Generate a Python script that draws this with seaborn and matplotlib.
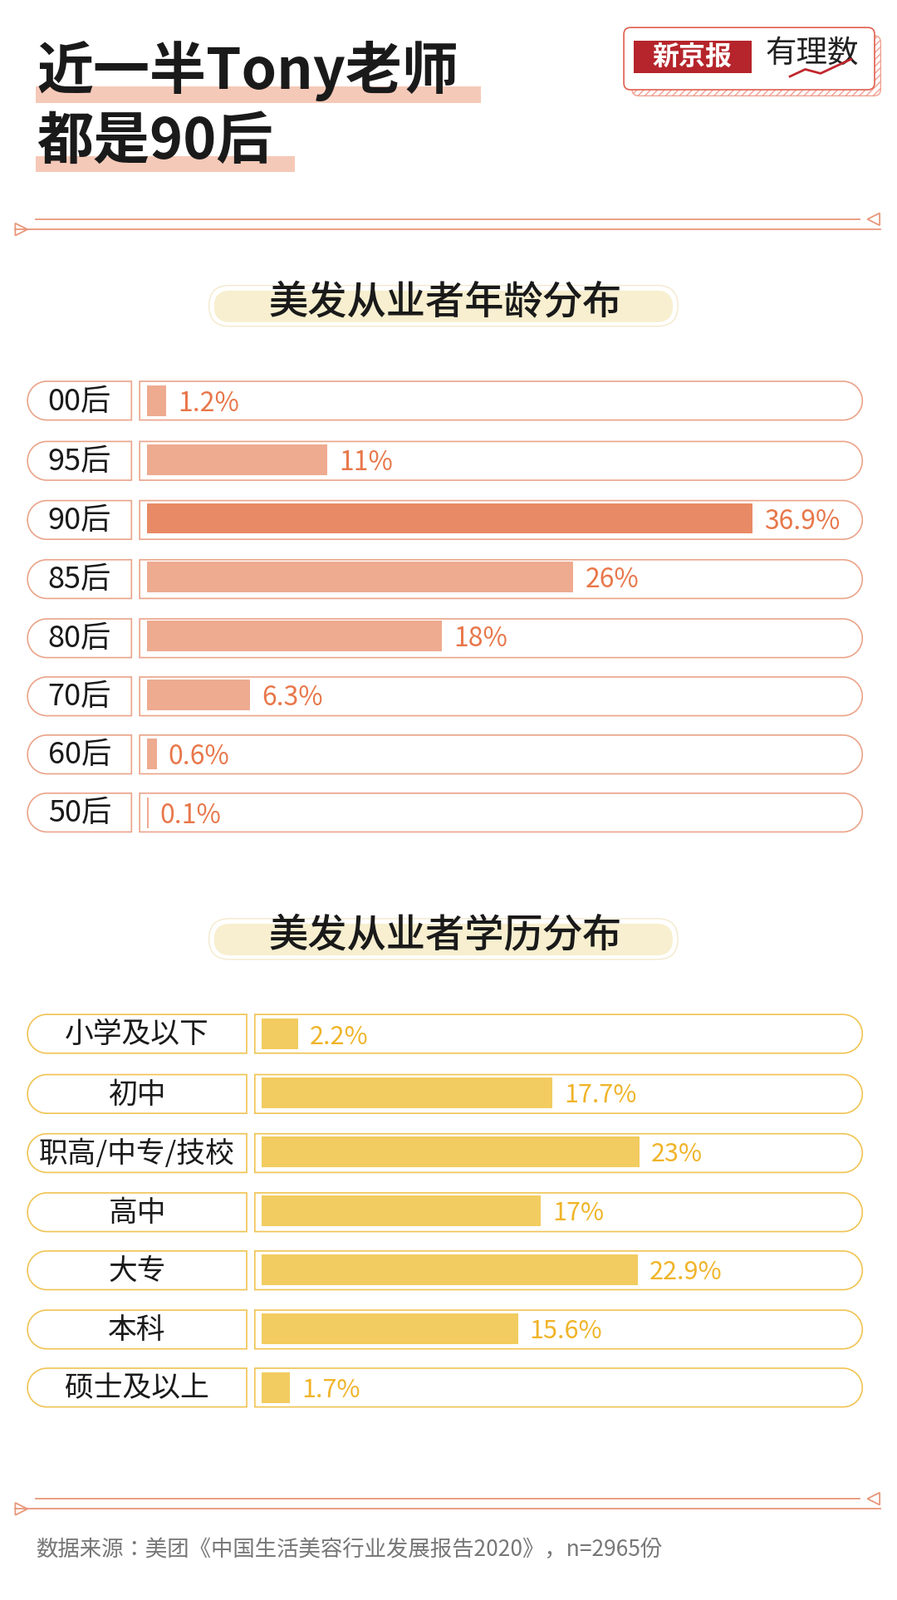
import matplotlib
matplotlib.use("Agg")
import matplotlib.pyplot as plt
from matplotlib.patches import FancyBboxPatch, Rectangle, Polygon
import numpy as np
import seaborn as sns

plt.rcParams["font.family"] = ["Noto Sans CJK SC", "Noto Sans CJK JP", "Noto Sans CJK TC",
                               "Noto Sans CJK KR", "DejaVu Sans"]

# ---- data ----
age_cats = ["00后", "95后", "90后", "85后", "80后", "70后", "60后", "50后"]
age_vals = [1.2, 11, 36.9, 26, 18, 6.3, 0.6, 0.1]
age_labels = ["1.2%", "11%", "36.9%", "26%", "18%", "6.3%", "0.6%", "0.1%"]
edu_cats = ["小学及以下", "初中", "职高/中专/技校", "高中", "大专", "本科", "硕士及以上"]
edu_vals = [2.2, 17.7, 23, 17, 22.9, 15.6, 1.7]
edu_labels = ["2.2%", "17.7%", "23%", "17%", "22.9%", "15.6%", "1.7%"]

S = 1080 / 880.0
W, H = 1080, 1926
fig = plt.figure(figsize=(10.8, 19.26), dpi=100)
fig.patch.set_facecolor("white")
bg = fig.add_axes([0, 0, 1, 1])
bg.set_xlim(0, W); bg.set_ylim(H, 0); bg.axis("off")

def pill(x0, y0, x1, y1, fc="none", ec="none", lw=1.2, z=1):
    x0, y0, x1, y1 = x0*S, y0*S, x1*S, y1*S
    h = y1 - y0
    bg.add_patch(FancyBboxPatch((x0, y0), x1-x0, h, boxstyle=f"round,pad=0,rounding_size={h/2}",
                                fc=fc, ec=ec, lw=lw, zorder=z))

def half_pill(x0, y0, x1, y1, side, ec, lw=1.2, z=1):
    x0, y0, x1, y1 = x0*S, y0*S, x1*S, y1*S
    r = (y1 - y0) / 2; yc = (y0 + y1) / 2
    t = np.linspace(-np.pi/2, np.pi/2, 40)
    if side == "left":
        arc = np.column_stack([x0 + r - r*np.cos(t), yc + r*np.sin(t)])
        pts = [(x1, y0)] + list(map(tuple, arc)) + [(x1, y1)]
    else:
        arc = np.column_stack([x1 - r + r*np.cos(t), yc + r*np.sin(t)])
        pts = [(x0, y0)] + list(map(tuple, arc)) + [(x0, y1)]
    bg.add_patch(Polygon(pts, closed=True, fc="white", ec=ec, lw=lw, zorder=z))

def txt(x, y, s, **kw):
    bg.text(x*S, y*S, s, **kw)

# title
bg.add_patch(Rectangle((35*S, 85*S), 437*S, 16*S, fc="#f5c9b8", ec="none", zorder=1))
bg.add_patch(Rectangle((35*S, 153*S), 254*S, 16*S, fc="#f5c9b8", ec="none", zorder=1))
txt(36, 70, "近一半Tony老师", fontsize=49, fontweight="bold", va="center", color="#1a1a1a", zorder=2)
txt(36, 140, "都是90后", fontsize=49, fontweight="bold", va="center", color="#1a1a1a", zorder=2)

# logo
bg.add_patch(FancyBboxPatch((620*S, 35*S), 244*S, 59*S, boxstyle="round,pad=0,rounding_size=8",
                            fc="white", ec="#f0a090", lw=1, hatch="////", zorder=1))
bg.add_patch(FancyBboxPatch((612*S, 27*S), 246*S, 61*S, boxstyle="round,pad=0,rounding_size=8",
                            fc="white", ec="#e06050", lw=1.2, zorder=2))
bg.add_patch(Rectangle((622*S, 40*S), 115*S, 32*S, fc="#b5252b", ec="none", zorder=3))
txt(679, 56, "新京报", fontsize=23, fontweight="bold", color="white", ha="center", va="center", zorder=4)
txt(797, 52, "有理数", fontsize=27, style="italic", color="#222222", ha="center", va="center", zorder=4)
bg.plot([775*S, 790*S, 805*S, 835*S], [75*S, 68*S, 72*S, 58*S], color="#c0272d", lw=2, zorder=5)

def divider(y):
    c = "#e8967a"
    bg.plot([35*S, 843*S], [y*S, y*S], color=c, lw=1.3)
    bg.plot([15*S, 864*S], [(y+10)*S, (y+10)*S], color=c, lw=1.3)
    bg.add_patch(Polygon([(863*S, (y-6)*S), (863*S, (y+6)*S), (851*S, y*S)], closed=True, fc="none", ec=c, lw=1.3))
    bg.add_patch(Polygon([(15*S, (y+4)*S), (15*S, (y+16)*S), (27*S, (y+10)*S)], closed=True, fc="none", ec=c, lw=1.3))

divider(215)
divider(1470)

def header(y, s):
    pill(205, y-17, 665, y+23, fc="none", ec="#f3e9cc", lw=1, z=1)
    pill(210, y-12, 660, y+19, fc="#f7efcf", z=2)
    txt(437, y, s, fontsize=34, fontweight="medium", color="#1a1a1a", ha="center", va="center", zorder=3)

header(297, "美发从业者年龄分布")
header(918, "美发从业者学历分布")

def section(cats, vals, labels, rows, lab_x1, pill_x0, bar_x0, ec, barcolors, tcolor, top, bottom, lfs, vfs):
    for c, yc in zip(cats, rows):
        half_pill(27, yc-19, lab_x1, yc+19, "left", ec)
        half_pill(pill_x0, yc-19, 846, yc+19, "right", ec)
        txt((27+lab_x1)/2, yc + 1, c, fontsize=lfs, color="#1a1a1a", ha="center", va="center", zorder=3)
    left = bar_x0*S / W
    width = (846-bar_x0)*S / W
    b = 1 - bottom*S / H
    h = (bottom-top)*S / H
    ax = fig.add_axes([left, b, width, h])
    ax.patch.set_alpha(0)
    sns.barplot(x=vals, y=cats, hue=cats, palette=barcolors, legend=False, width=0.52,
                orient="h", ax=ax, saturation=1)
    ax.set_xlim(0, (846-bar_x0)/16.1)
    ax.set_ylim(len(cats)-0.5, -0.5)
    for i, (v, l) in enumerate(zip(vals, labels)):
        ax.text(v + 0.7, i + 0.05, l, color=tcolor, fontsize=vfs, va="center", ha="left")
    ax.axis("off")

age_rows = [393, 452, 510, 568, 626, 683, 740, 797]
age_colors = ["#eeab90"]*8
age_colors[2] = "#e88a65"
section(age_cats, age_vals, age_labels, age_rows, 129, 137, 144, "#eba48a", age_colors, "#e8774a",
        364.1, 825.9, 26, 23)

edu_rows = [1014, 1073, 1131, 1189, 1246, 1304, 1361]
section(edu_cats, edu_vals, edu_labels, edu_rows, 242, 250, 257, "#f0c454", ["#f2cc60"]*7, "#f0b429",
        985.1, 1389.9, 25, 22)

txt(35, 1520, "数据来源：美团《中国生活美容行业发展报告2020》，n=2965份", fontsize=19, color="#777777", va="center")

fig.savefig("out.png", dpi=100, facecolor="white")
